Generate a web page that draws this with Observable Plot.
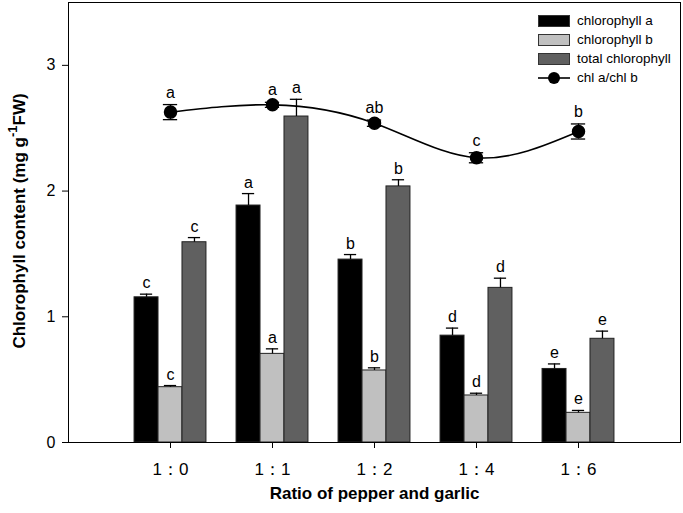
<!DOCTYPE html>
<html>
<head>
<meta charset="utf-8">
<script src="https://cdn.jsdelivr.net/npm/d3@7"></script>
<script src="https://cdn.jsdelivr.net/npm/@observablehq/plot@0.6"></script>
<style>
  body { margin: 0; background: #fff; }
  #wrap { position: relative; width: 683px; height: 513px; font-family: "Liberation Sans", Arial, sans-serif; }
  #legend { position: absolute; left: 538px; top: 11px; font-size: 13.5px; color: #000; }
  .li { display: flex; align-items: center; height: 19px; }
  .sw { width: 32px; height: 12px; border: 1px solid #333; margin-right: 7px; box-sizing: border-box; }
</style>
</head>
<body>
<div id="wrap"></div>
<script>
// ---- data ----
const ratios = ["1：0", "1：1", "1：2", "1：4", "1：6"];
const chlA = [1.155, 1.885, 1.455, 0.850, 0.585];
const chlASe = [0.025, 0.095, 0.040, 0.060, 0.040];
const chlALetters = ["c", "a", "b", "d", "e"];
const chlB = [0.440, 0.705, 0.573, 0.374, 0.236];
const chlBSe = [0.013, 0.040, 0.021, 0.018, 0.019];
const chlBLetters = ["c", "a", "b", "d", "e"];
const totalChl = [1.593, 2.593, 2.037, 1.230, 0.825];
const totalSe = [0.037, 0.137, 0.053, 0.077, 0.061];
const totalLetters = ["c", "a", "b", "d", "e"];
const abRatio = [2.628, 2.686, 2.540, 2.265, 2.474];
const abSe = [0.060, 0.020, 0.025, 0.040, 0.060];
const abLetters = ["a", "a", "ab", "c", "b"];
const yTicks = [0, 1, 2, 3];
const seriesNames = ["chlorophyll a", "chlorophyll b", "total chlorophyll", "chl a/chl b"];

// ---- build ----
const bw = 0.235;   // bar width in category units
const capBar = 0.06, capPt = 0.07;
const series = [
  {vals: chlA, se: chlASe, letters: chlALetters, fill: "#000000", off: -1},
  {vals: chlB, se: chlBSe, letters: chlBLetters, fill: "#c0c0c0", off: 0},
  {vals: totalChl, se: totalSe, letters: totalLetters, fill: "#606060", off: 1}
];
const seriesRows = series.map(s => s.vals.map((v, i) => ({
  i, v, se: s.se[i], letter: s.letters[i], c: i + s.off * bw
})));
const ptRows = abRatio.map((v, i) => ({i, v, se: abSe[i], letter: abLetters[i]}));

const marks = [];
series.forEach((s, k) => {
  const rows = seriesRows[k];
  marks.push(Plot.rectY(rows, {x1: d => d.c - bw / 2, x2: d => d.c + bw / 2, y1: 0, y2: "v",
    fill: s.fill, stroke: "#222", strokeWidth: 1, inset: 0}));
  marks.push(Plot.ruleX(rows, {x: "c", y1: "v", y2: d => d.v + d.se, stroke: "#000", strokeWidth: 1.3}));
  marks.push(Plot.ruleY(rows, {y: d => d.v + d.se, x1: d => d.c - capBar, x2: d => d.c + capBar, stroke: "#000", strokeWidth: 1.3}));
  marks.push(Plot.text(rows, {x: "c", y: d => d.v + d.se, text: "letter", lineAnchor: "bottom", dy: -6, fontSize: 16, fill: "#000"}));
});
marks.push(Plot.line(ptRows, {x: "i", y: "v", curve: "natural", stroke: "#000", strokeWidth: 1.6}));
marks.push(Plot.ruleX(ptRows, {x: "i", y1: d => d.v - d.se, y2: d => d.v + d.se, stroke: "#000", strokeWidth: 1.3}));
marks.push(Plot.ruleY(ptRows, {y: d => d.v + d.se, x1: d => d.i - capPt, x2: d => d.i + capPt, stroke: "#000", strokeWidth: 1.3}));
marks.push(Plot.ruleY(ptRows, {y: d => d.v - d.se, x1: d => d.i - capPt, x2: d => d.i + capPt, stroke: "#000", strokeWidth: 1.3}));
marks.push(Plot.dot(ptRows, {x: "i", y: "v", r: 6, fill: "#000", stroke: "#000"}));
marks.push(Plot.text(ptRows, {x: "i", y: d => d.v + d.se, text: "letter", lineAnchor: "bottom", dy: -7, fontSize: 16, fill: "#000"}));

marks.push(Plot.frame({stroke: "#000", strokeWidth: 1}));
marks.push(Plot.axisY({ticks: yTicks, tickSize: 6, tickPadding: 7, label: null, fontSize: 16, tickFormat: d => String(d)}));
marks.push(Plot.axisX({ticks: ratios.map((_, i) => i), tickFormat: i => ratios[i], tickSize: 6, tickPadding: 14, label: null, fontSize: 17}));
marks.push(Plot.text(["Ratio of pepper and garlic"], {frameAnchor: "bottom", dy: 56, fontWeight: "bold", fontSize: 17, fill: "#000"}));

const chart = Plot.plot({
  width: 683, height: 513,
  marginTop: 2, marginBottom: 71, marginLeft: 68, marginRight: 3,
  style: {fontFamily: "Liberation Sans, Arial, sans-serif", fontSize: "15px", color: "#000", background: "#fff"},
  x: {type: "linear", domain: [-1, 5]},
  y: {domain: [0, 3.5]},
  marks
});

// y-axis title with superscript
const yl = d3.select(chart).append("text")
  .attr("transform", "translate(21,221) rotate(-90)")
  .attr("text-anchor", "middle").attr("dominant-baseline", "middle")
  .attr("font-weight", "bold").attr("font-size", 17)
  .attr("font-family", "Liberation Sans, Arial, sans-serif").attr("fill", "#000");
yl.append("tspan").text("Chlorophyll content (mg g");
yl.append("tspan").attr("dy", -7).attr("font-size", 13).text("-1");
yl.append("tspan").attr("dy", 7).text("FW)");

const wrap = document.getElementById("wrap");
wrap.appendChild(chart);

// legend
const legend = document.createElement("div");
legend.id = "legend";
const fills = ["#000000", "#c0c0c0", "#606060"];
seriesNames.forEach((name, k) => {
  const li = document.createElement("div");
  li.className = "li";
  if (k < 3) {
    const sw = document.createElement("div");
    sw.className = "sw";
    sw.style.background = fills[k];
    li.appendChild(sw);
  } else {
    const ns = "http://www.w3.org/2000/svg";
    const s = document.createElementNS(ns, "svg");
    s.setAttribute("width", 39); s.setAttribute("height", 16);
    const ln = document.createElementNS(ns, "line");
    ln.setAttribute("x1", 0); ln.setAttribute("x2", 32); ln.setAttribute("y1", 8); ln.setAttribute("y2", 8);
    ln.setAttribute("stroke", "#000"); ln.setAttribute("stroke-width", 1.6);
    const c = document.createElementNS(ns, "circle");
    c.setAttribute("cx", 16); c.setAttribute("cy", 8); c.setAttribute("r", 6); c.setAttribute("fill", "#000");
    s.appendChild(ln); s.appendChild(c);
    li.appendChild(s);
  }
  const t = document.createElement("span");
  t.textContent = name;
  li.appendChild(t);
  legend.appendChild(li);
});
wrap.appendChild(legend);
</script>
</body>
</html>
